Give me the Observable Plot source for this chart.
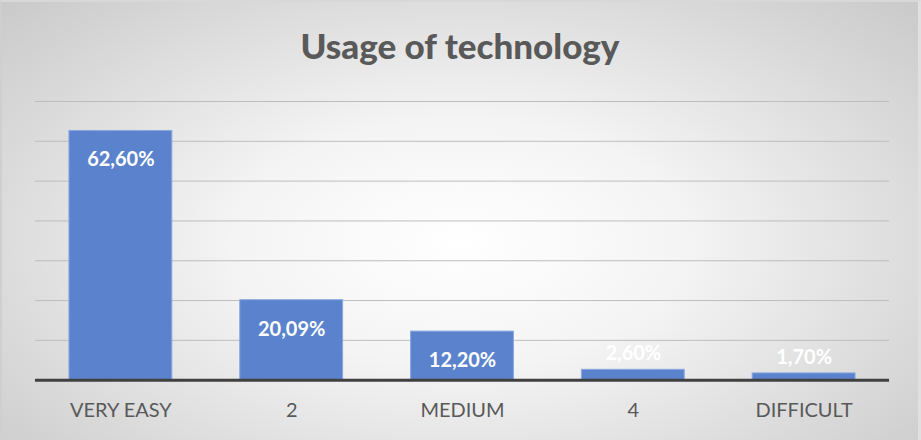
<!DOCTYPE html>
<html>
<head>
<meta charset="utf-8">
<script src="https://cdn.jsdelivr.net/npm/d3@7"></script>
<script src="https://cdn.jsdelivr.net/npm/@observablehq/plot@0.6"></script>
<style>
  html, body { margin: 0; padding: 0; background: #fff; }
  #chart {
    position: relative; width: 921px; height: 440px; box-sizing: border-box;
    background: radial-gradient(ellipse 70% 80% at 50% 55%, #ffffff 0%, #f4f4f4 35%, #d6d6d6 80%, #c9c9c9 100%);
    border-top: 2px solid #d8d8d8; border-left: 2px solid #cfcfcf; border-right: 3px solid #e0e0e0;
    font-family: Lato, "Open Sans", sans-serif; overflow: hidden;
  }
  #title {
    height: 88px; line-height: 86px; text-align: center;
    font-size: 35px; font-weight: 900; color: #595959;
  }
  #chart svg { display: block; background: transparent; }
</style>
</head>
<body>
<div id="chart"><div id="title">Usage of technology</div></div>
<script>
const categories = ["VERY EASY", "2", "MEDIUM", "4", "DIFFICULT"];
const values = [62.60, 20.09, 12.20, 2.60, 1.70];
const labels = ["62,60%", "20,09%", "12,20%", "2,60%", "1,70%"];
const gridTicks = [10, 20, 30, 40, 50, 60, 70];

const data = categories.map((c, i) => ({cat: c, value: values[i], label: labels[i]}));
const big = data.filter(d => d.value >= 5);
const small = data.filter(d => d.value < 5);

const plot = Plot.plot({
  width: 917,
  height: 350,
  marginTop: 11,
  marginBottom: 60,
  marginLeft: 33,
  marginRight: 29,
  style: {background: "transparent", fontFamily: "Lato, 'Open Sans', sans-serif"},
  x: {domain: categories, paddingInner: 0.4, paddingOuter: 0.2, label: null},
  y: {domain: [0, 70], label: null, axis: null},
  marks: [
    Plot.gridY(gridTicks, {stroke: "#bdbdbd", strokeOpacity: 1, strokeWidth: 1}),
    Plot.barY(data, {x: "cat", y: "value", fill: "#5b83cd", stroke: "#8aa8df", strokeWidth: 1}),
    Plot.ruleY([0], {stroke: "#404040", strokeWidth: 3}),
    Plot.axisX({tickSize: 0, tickPadding: 23, fontSize: 20, fill: "#595959", label: null}),
    Plot.text(big, {x: "cat", y: "value", text: "label", dy: 29, fill: "white", fontWeight: "bold", fontSize: 20}),
    Plot.text(small, {x: "cat", y: "value", text: "label", dy: -16, fill: "white", fontWeight: "bold", fontSize: 20})
  ]
});
document.getElementById("chart").appendChild(plot);
</script>
</body>
</html>
